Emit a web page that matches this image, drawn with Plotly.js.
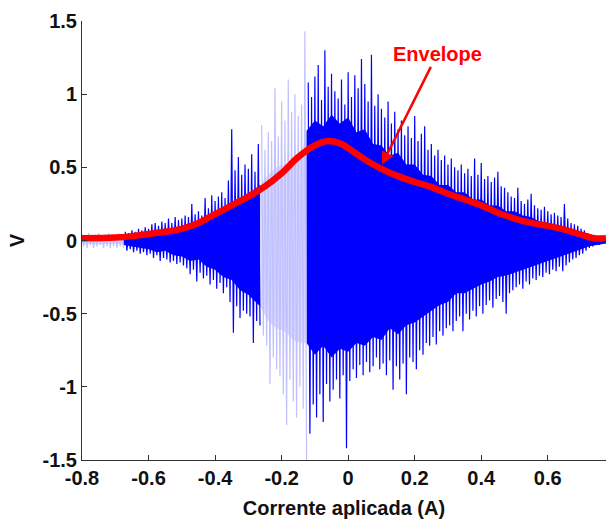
<!DOCTYPE html>
<html>
<head>
<meta charset="utf-8">
<script src="https://cdn.plot.ly/plotly-3.0.1.min.js"></script>
<style>html,body{margin:0;padding:0;background:#fff;}#chart{width:606px;height:525px;}</style>
</head>
<body>
<div id="chart"></div>
<script>
const signalStart = -0.80;
const signalStep = 0.01;
const upperPeaks = [
  0.04,0.03,0.05,0.03,0.04,0.05,0.03,0.04,0.05,0.04,
  0.04,0.05,0.03,0.06,0.05,0.07,0.06,0.08,0.07,0.09,
  0.08,0.11,0.12,0.10,0.13,0.12,0.15,0.12,0.16,0.14,
  0.15,0.17,0.16,0.25,0.18,0.20,0.17,0.29,0.22,0.31,
  0.27,0.30,0.33,0.29,0.41,0.76,0.48,0.57,0.45,0.52,
  0.49,0.59,0.47,0.66,0.79,0.62,0.74,0.68,1.04,0.71,
  0.95,0.82,1.10,0.88,1.00,0.85,0.93,1.43,1.08,0.98,
  1.12,1.20,0.96,1.30,1.05,1.14,1.02,0.97,1.10,0.93,
  1.15,0.98,1.13,1.04,1.24,1.07,0.95,1.27,0.92,1.00,
  0.90,0.84,0.95,0.80,0.88,0.76,0.82,0.72,0.78,0.70,
  0.85,0.68,0.73,0.78,0.62,0.66,0.58,0.62,0.55,0.58,
  0.52,0.56,0.50,0.48,0.52,0.46,0.49,0.44,0.56,0.45,
  0.53,0.42,0.44,0.40,0.43,0.47,0.37,0.36,0.33,0.30,
  0.29,0.36,0.27,0.25,0.28,0.32,0.24,0.22,0.21,0.23,
  0.20,0.18,0.19,0.17,0.16,0.25,0.15,0.12,0.11,0.10,
  0.08,0.07,0.05,0.04,0.03,0.03,0.02,0.02
];
const lowerPeaks = [
  -0.04,-0.05,-0.03,-0.05,-0.04,-0.03,-0.05,-0.04,-0.05,-0.04,
  -0.05,-0.04,-0.05,-0.07,-0.06,-0.08,-0.07,-0.09,-0.08,-0.10,
  -0.09,-0.12,-0.10,-0.14,-0.12,-0.13,-0.15,-0.14,-0.16,-0.15,
  -0.17,-0.19,-0.23,-0.20,-0.28,-0.22,-0.26,-0.24,-0.30,-0.27,
  -0.33,-0.29,-0.36,-0.32,-0.42,-0.63,-0.45,-0.53,-0.48,-0.50,
  -0.52,-0.70,-0.55,-0.58,-0.65,-0.72,-0.98,-0.80,-0.88,-0.93,
  -1.05,-1.26,-0.95,-1.10,-1.21,-1.00,-1.15,-1.50,-1.32,-1.12,
  -1.21,-1.05,-1.24,-0.98,-1.10,-1.02,-0.95,-1.08,-0.92,-1.42,
  -0.96,-0.88,-0.94,-0.85,-0.92,-0.83,-0.90,-0.86,-0.80,-0.88,
  -0.84,-0.92,-0.82,-1.02,-0.86,-0.95,-0.84,-1.05,-0.80,-0.83,
  -0.88,-0.75,-0.78,-0.70,-0.72,-0.66,-0.71,-0.62,-0.65,-0.60,
  -0.58,-0.62,-0.55,-0.52,-0.62,-0.50,-0.54,-0.48,-0.52,-0.45,
  -0.50,-0.44,-0.41,-0.46,-0.40,-0.38,-0.42,-0.50,-0.36,-0.34,
  -0.32,-0.30,-0.33,-0.28,-0.30,-0.26,-0.27,-0.24,-0.25,-0.22,
  -0.23,-0.20,-0.21,-0.18,-0.21,-0.17,-0.15,-0.13,-0.12,-0.10,
  -0.09,-0.07,-0.05,-0.04,-0.03,-0.03,-0.02,-0.02
];
// Dense core of the signal (where the oscillation fills solidly)
const coreX = [
  -0.80,-0.75,-0.70,-0.675,-0.65,-0.625,-0.60,-0.575,-0.55,-0.525,-0.50,-0.475,-0.45,-0.425,-0.40,-0.375,-0.35,-0.325,-0.30,-0.265,
  -0.24,-0.215,-0.19,-0.165,-0.14,-0.125,-0.10,-0.075,-0.05,-0.025,0.00,0.025,0.05,0.075,0.10,0.125,0.15,0.175,0.20,0.225,0.25,
  0.275,0.30,0.325,0.35,0.375,0.40,0.425,0.45,0.475,0.50,0.525,0.55,0.575,0.60,0.625,0.65,0.675,0.70,0.725,0.75,0.775
];
const coreUpper = [
  0.02,0.02,0.02,0.02,0.035,0.03,0.05,0.06,0.08,0.07,0.10,0.09,0.13,0.15,0.18,0.19,0.25,0.27,0.32,0.38,
  0.45,0.50,0.52,0.55,0.58,0.75,0.82,0.78,0.86,0.80,0.84,0.74,0.76,0.66,0.65,0.58,0.60,0.52,0.52,0.45,0.44,
  0.38,0.38,0.33,0.33,0.28,0.28,0.24,0.24,0.20,0.20,0.17,0.16,0.13,0.12,0.10,0.08,0.06,0.05,0.03,0.02,0.015
];
const coreLower = [
  -0.02,-0.025,-0.02,-0.03,-0.04,-0.05,-0.06,-0.08,-0.07,-0.10,-0.11,-0.14,-0.13,-0.18,-0.20,-0.25,-0.27,-0.34,-0.37,-0.45,
  -0.55,-0.60,-0.62,-0.68,-0.70,-0.70,-0.78,-0.72,-0.80,-0.74,-0.76,-0.70,-0.72,-0.66,-0.68,-0.60,-0.64,-0.58,-0.56,-0.52,-0.48,
  -0.44,-0.42,-0.36,-0.36,-0.33,-0.30,-0.28,-0.25,-0.24,-0.22,-0.20,-0.18,-0.16,-0.14,-0.12,-0.10,-0.08,-0.06,-0.04,-0.03,-0.02
];
// Envelope curve
const envelopeX = [-0.80,-0.70,-0.65,-0.60,-0.55,-0.50,-0.45,-0.40,-0.35,-0.30,-0.25,-0.20,-0.15,-0.10,-0.06,-0.02,0.02,0.06,0.10,0.15,0.20,0.25,0.30,0.35,0.40,0.45,0.50,0.55,0.60,0.65,0.70,0.74,0.775];
const envelopeY = [0.015,0.02,0.03,0.045,0.06,0.08,0.12,0.18,0.24,0.30,0.37,0.46,0.57,0.65,0.68,0.66,0.60,0.54,0.49,0.44,0.40,0.365,0.32,0.28,0.24,0.19,0.15,0.12,0.10,0.075,0.04,0.015,0.015];
// Ranges drawn in the pale shade
const segments = [
  {from: -0.80, to: -0.675, pale: true},
  {from: -0.675, to: -0.265, pale: false},
  {from: -0.265, to: -0.125, pale: true},
  {from: -0.125, to: 0.775, pale: false}
];
const xTickVals = [-0.8,-0.6,-0.4,-0.2,0,0.2,0.4,0.6];
const xTickText = ['-0.8','-0.6','-0.4','-0.2','0','0.2','0.4','0.6'];
const yTickVals = [-1.5,-1,-0.5,0,0.5,1,1.5];
const yTickText = ['-1.5','-1','-0.5','0','0.5','1','1.5'];

const DARK = '#0000ff', PALE = '#c0c0ff', PALE_CORE = '#d8d8ff';
const traces = [];
// core fills
segments.forEach(s => {
  const xs = [], up = [], lo = [];
  coreX.forEach((x, i) => { if (x >= s.from - 1e-9 && x <= s.to + 1e-9) { xs.push(x); up.push(coreUpper[i]); lo.push(coreLower[i]); } });
  traces.push({x: xs.concat(xs.slice().reverse()), y: up.concat(lo.slice().reverse()),
    type: 'scatter', mode: 'lines', fill: 'toself', fillcolor: s.pale ? PALE_CORE : DARK,
    line: {width: 0, color: s.pale ? PALE_CORE : DARK}, hoverinfo: 'skip'});
});
// oscillation spikes
segments.forEach(s => {
  const xs = [], ys = [];
  for (let i = 0; i < upperPeaks.length; i++) {
    const x0 = signalStart + i*signalStep;
    if (x0 < s.from - 1e-9 || x0 >= s.to - 1e-9) continue;
    xs.push(x0, x0 + signalStep/2); ys.push(upperPeaks[i], lowerPeaks[i]);
  }
  traces.push({x: xs, y: ys, type: 'scatter', mode: 'lines',
    line: {color: s.pale ? PALE : DARK, width: s.pale ? 1.2 : 1.2}, hoverinfo: 'skip'});
});
traces.push({x: envelopeX, y: envelopeY, type: 'scatter', mode: 'lines',
  line: {color: '#ff0000', width: 6.5, shape: 'spline', smoothing: 1}, hoverinfo: 'skip'});

const font = {family: 'Liberation Sans, Arial, sans-serif', size: 20, color: '#111', weight: 'bold'};
const layout = {
  width: 606, height: 525,
  margin: {l: 82, r: 0, t: 21, b: 65},
  paper_bgcolor: '#fff', plot_bgcolor: '#fff',
  showlegend: false,
  font: font,
  xaxis: {
    range: [-0.8, 0.775], tickvals: xTickVals, ticktext: xTickText,
    ticks: 'inside', ticklen: 5, tickcolor: '#333', tickwidth: 1,
    showline: true, linecolor: '#333', linewidth: 1,
    showgrid: false, zeroline: false, tickfont: font,
    title: {text: 'Corrente aplicada (A)', font: font, standoff: 12}
  },
  yaxis: {
    range: [-1.5, 1.5], tickvals: yTickVals, ticktext: yTickText,
    ticks: 'inside', ticklen: 5, tickcolor: '#333', tickwidth: 1,
    showline: true, linecolor: '#333', linewidth: 1,
    showgrid: false, zeroline: false, tickfont: font,
    title: {text: 'V', font: font, standoff: 12}
  },
  annotations: [{
    x: 0.102, y: 0.52, xref: 'x', yref: 'y',
    text: 'Envelope', showarrow: true,
    ax: 55, ay: -110,
    arrowhead: 2, arrowsize: 1, arrowwidth: 2.5, arrowcolor: '#ff0000',
    font: {family: 'Liberation Sans, Arial, sans-serif', size: 20, color: '#ff0000', weight: 'bold'}
  }]
};
Plotly.newPlot('chart', traces, layout, {staticPlot: true, displayModeBar: false});
</script>
</body>
</html>
